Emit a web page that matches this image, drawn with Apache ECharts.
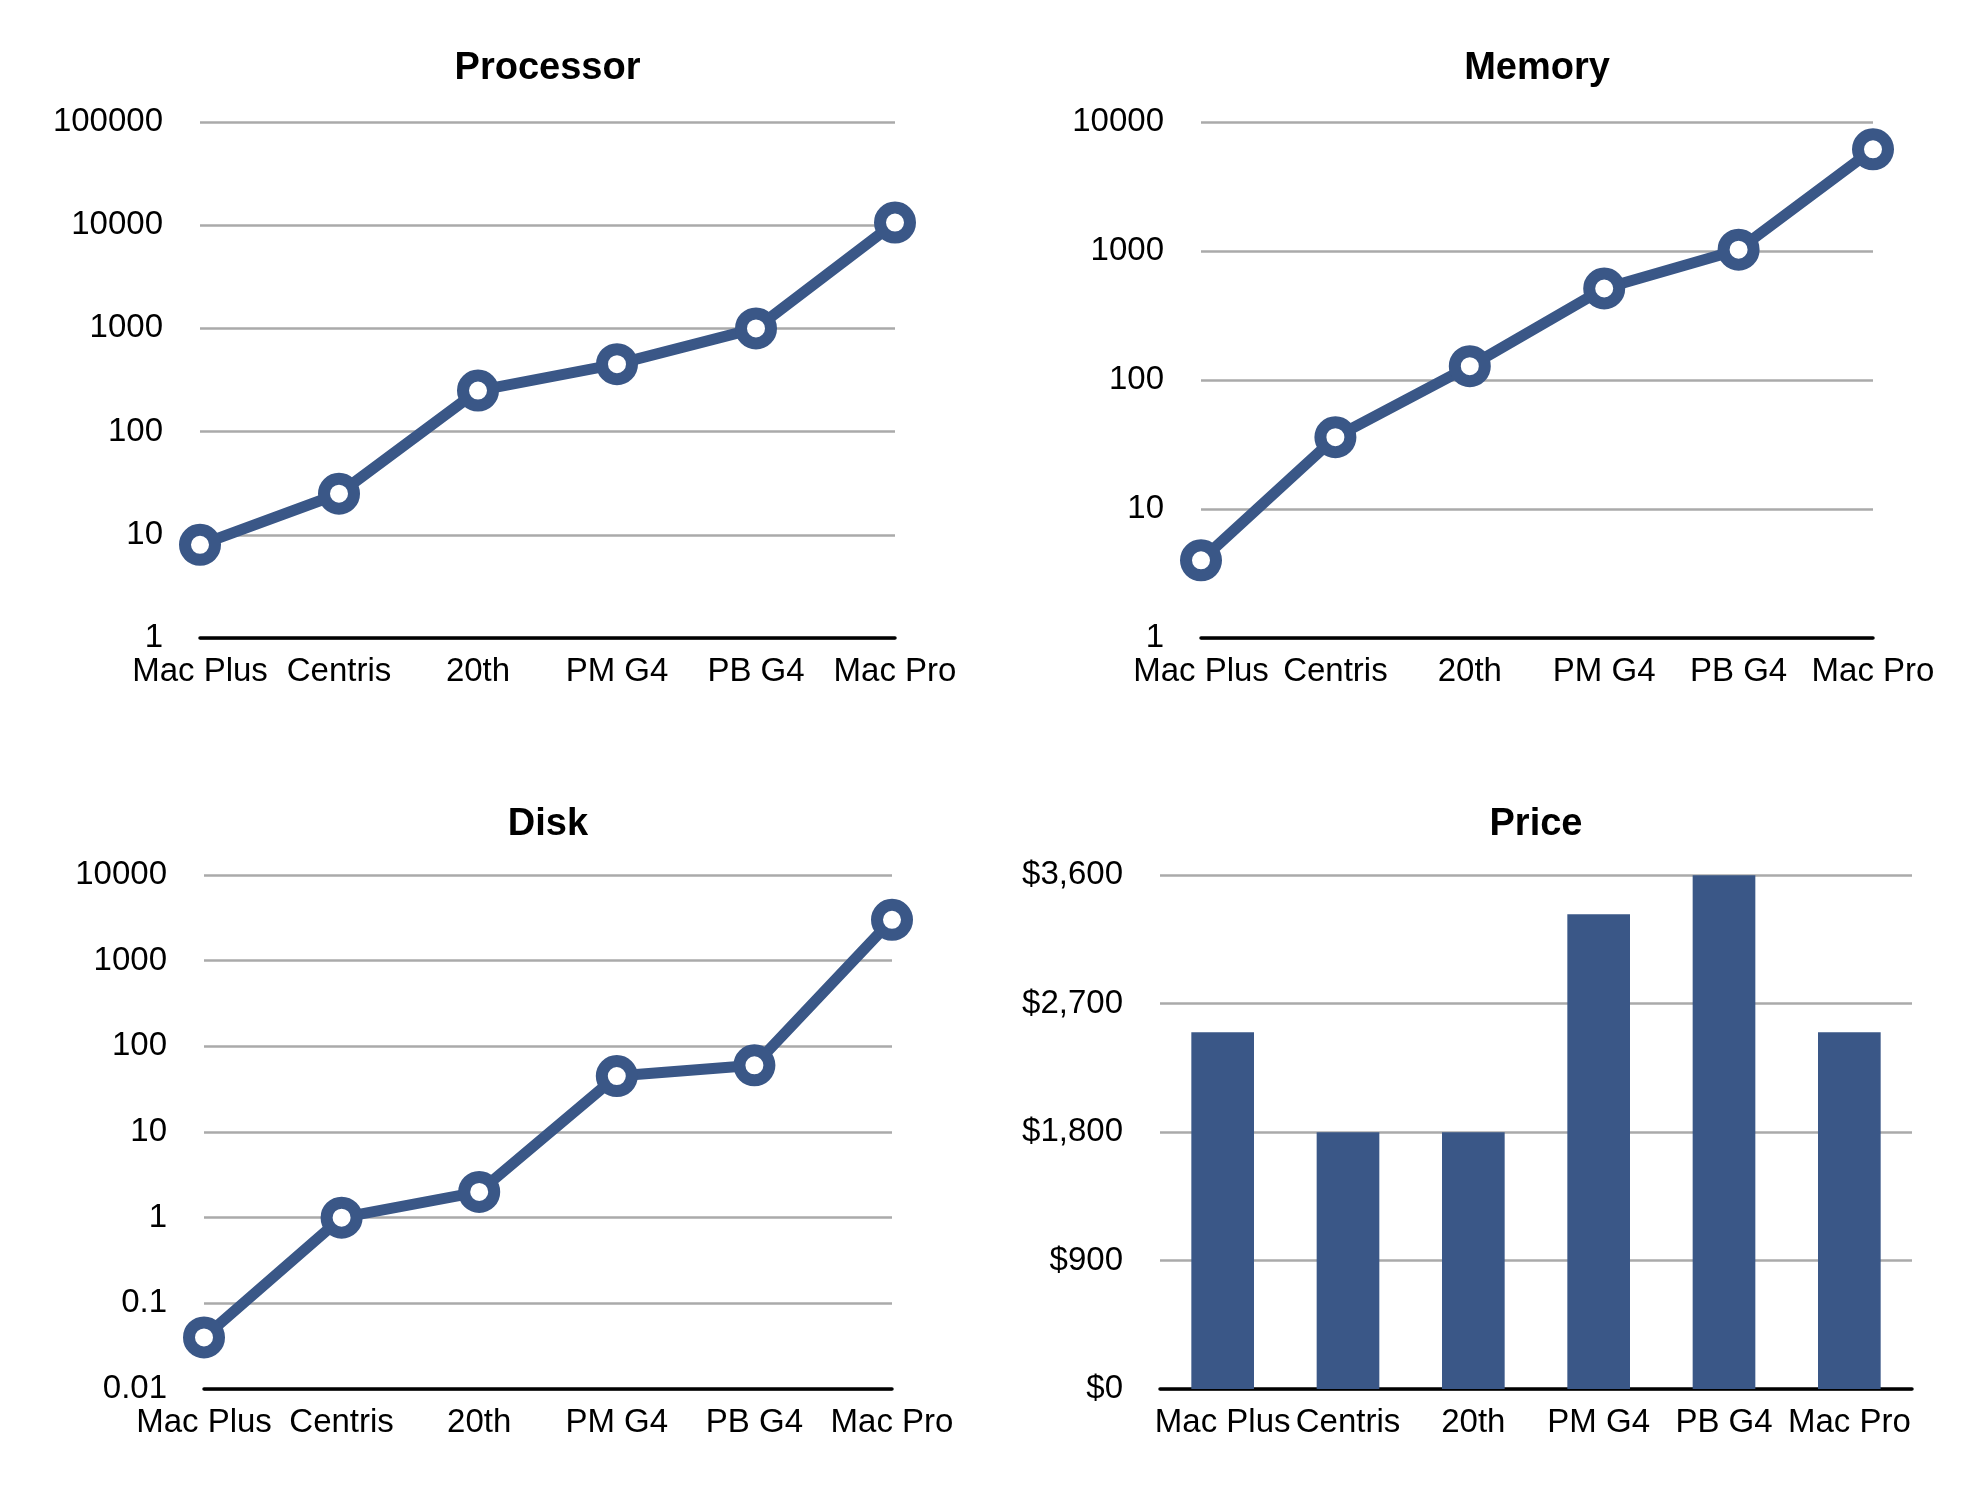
<!DOCTYPE html>
<html>
<head>
<meta charset="utf-8">
<script src="https://cdn.jsdelivr.net/npm/echarts@6/dist/echarts.min.js"></script>
<style>
html,body{margin:0;padding:0;background:#fff;}
#chart{width:1984px;height:1488px;}
</style>
</head>
<body>
<div id="chart"></div>
<script>
const categories = ['Mac Plus', 'Centris', '20th', 'PM G4', 'PB G4', 'Mac Pro'];
const processorValues = [8, 25, 250, 450, 1000, 10600];
const memoryValues = [4, 36, 128, 512, 1024, 6144];
const diskValues = [0.04, 1, 2, 45, 60, 3000];
const priceValues = [2499, 1799, 1799, 3325, 3599, 2499];
const chartTitles = ['Processor', 'Memory', 'Disk', 'Price'];
const priceTicks = [0, 900, 1800, 2700, 3600];

const BLUE = '#3a5787';
const FONT = 'Liberation Sans, Arial, Helvetica, sans-serif';

const grids = [
  {left: 200, top: 122, width: 695, height: 516},
  {left: 1201, top: 122, width: 672, height: 516},
  {left: 204, top: 875, width: 688, height: 514},
  {left: 1160, top: 875, width: 752, height: 514}
];
const titleTops = [50, 50, 806, 806];

function fmtLog(v) {
  return String(Number(Number(v).toPrecision(6)));
}
function fmtPrice(v) {
  return '$' + Math.round(v).toLocaleString('en-US');
}

const chart = echarts.init(document.getElementById('chart'));

const xAxes = grids.map((g, i) => ({
  type: 'category',
  gridIndex: i,
  data: categories,
  boundaryGap: i === 3,
  axisLine: {show: true, lineStyle: {color: '#000', width: 3.5}},
  axisTick: {show: false},
  axisLabel: {color: '#000', fontSize: 33, fontFamily: FONT, margin: 17, interval: 0},
  splitLine: {show: false}
}));

const logRanges = [[1, 100000, 5], [1, 10000, 4], [0.01, 10000, 6]];
const yAxes = grids.map((g, i) => {
  const base = {
    gridIndex: i,
    axisLine: {show: false},
    axisTick: {show: false},
    splitLine: {show: true, lineStyle: {color: '#aaaaaa', width: 2.5}},
    axisLabel: {color: '#000', fontSize: 33, fontFamily: FONT, margin: 37}
  };
  if (i < 3) {
    const r = logRanges[i];
    return Object.assign(base, {
      type: 'log', logBase: 10, min: r[0], max: r[1], splitNumber: r[2],
      axisLabel: Object.assign(base.axisLabel, {formatter: fmtLog})
    });
  }
  return Object.assign(base, {
    type: 'value', min: priceTicks[0], max: priceTicks[priceTicks.length - 1], interval: 900,
    axisLabel: Object.assign(base.axisLabel, {formatter: fmtPrice})
  });
});

const titles = grids.map((g, i) => ({
  text: chartTitles[i],
  left: g.left + g.width / 2,
  top: titleTops[i],
  textAlign: 'center',
  padding: 0,
  textStyle: {fontSize: 38, fontWeight: 'bold', color: '#000', fontFamily: FONT}
}));

function lineSeries(data, idx) {
  return {
    type: 'line',
    xAxisIndex: idx, yAxisIndex: idx,
    data: data,
    symbol: 'circle',
    symbolSize: 30,
    showAllSymbol: true,
    lineStyle: {color: BLUE, width: 11},
    itemStyle: {color: '#fff', borderColor: BLUE, borderWidth: 12},
    z: 3,
    animation: false
  };
}

chart.setOption({
  backgroundColor: '#fff',
  animation: false,
  title: titles,
  grid: grids,
  xAxis: xAxes,
  yAxis: yAxes,
  series: [
    lineSeries(processorValues, 0),
    lineSeries(memoryValues, 1),
    lineSeries(diskValues, 2),
    {
      type: 'bar',
      xAxisIndex: 3, yAxisIndex: 3,
      data: priceValues,
      barWidth: '50%',
      itemStyle: {color: BLUE},
      animation: false
    }
  ]
});
</script>
</body>
</html>
